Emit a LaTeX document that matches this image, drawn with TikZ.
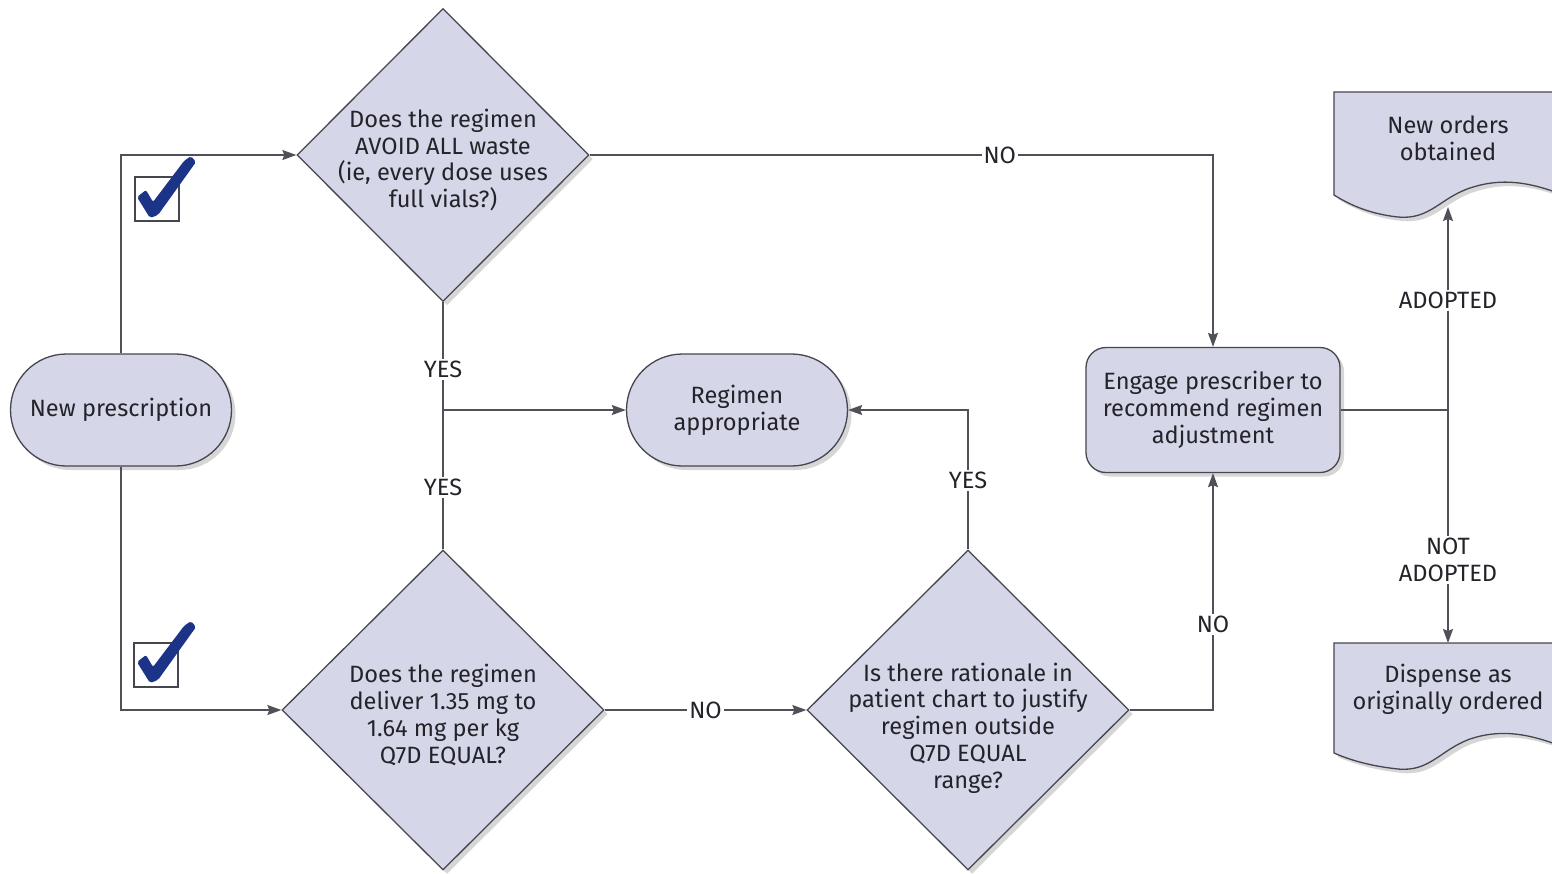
\documentclass[tikz,border=0pt]{standalone}
\usepackage{fontspec}
\setmainfont{Fira Sans}
\usetikzlibrary{shapes.geometric,shadows,arrows.meta}
\definecolor{boxfill}{RGB}{213,215,232}
\definecolor{edgec}{RGB}{70,70,78}
\definecolor{connc}{RGB}{80,80,88}
\definecolor{tickc}{RGB}{28,52,135}
\definecolor{txtc}{RGB}{35,35,42}
\begin{document}
\begin{tikzpicture}[x=1pt,y=-1pt,
  every node/.style={font=\fontsize{23.6}{26.8}\selectfont, text=txtc},
  shp/.style={draw=edgec, line width=1.3pt, fill=boxfill,
    drop shadow={opacity=0.32, shadow xshift=4pt, shadow yshift=-4pt}},
  term/.style={shp, rounded corners=56pt, minimum width=221pt, minimum height=112pt, align=center, inner sep=0pt},
  dia/.style={shp, diamond, aspect=1, inner sep=0pt},
  qtxt/.style={align=center, inner sep=0pt},
  lab/.style={fill=white, inner sep=2pt, align=center},
  line/.style={draw=connc, line width=1.4pt},
  arr/.style={line, -{Stealth[length=14pt, width=10pt, inset=2pt]}},
  cbox/.style={draw=edgec, line width=2.8pt, fill=white}
]
\useasboundingbox (0,0) rectangle (1552,873);
\fill[white] (0,0) rectangle (1552,873);

% terminals
\node[term] (np) at (121,410) {New prescription};
\node[term] (ra) at (737,410) {Regimen\\appropriate};

% decisions
\node[dia, minimum width=292pt, minimum height=293pt] (d1) at (443,155) {};
\node[qtxt] (d1t) at (443,160) {Does the regimen\\AVOID ALL waste\\(ie, every dose uses\\full vials?)};
\node[dia, minimum width=322pt, minimum height=320pt] (d2) at (443,710) {};
\node[qtxt] (d2t) at (443,715) {Does the regimen\\deliver 1.35 mg to\\1.64 mg per kg\\Q7D EQUAL?};
\node[dia, minimum width=322pt, minimum height=320pt] (d3) at (968,710) {};
\node[qtxt] (d3t) at (968,728) {Is there rationale in\\patient chart to justify\\regimen outside\\Q7D EQUAL\\range?};

% process
\node[shp, rounded corners=20pt, minimum width=254pt, minimum height=125pt, align=center, inner sep=0pt] (eng) at (1213,410) {Engage prescriber to\\recommend regimen\\adjustment};

% documents
\path[shp] (1334,92) -- (1575,92) -- (1575,200)
  .. controls (1530,180) and (1500,178) .. (1470,188)
  .. controls (1440,198) and (1430,220) .. (1398,217)
  .. controls (1370,214) and (1350,205) .. (1334,195) -- cycle;
\node[qtxt] (nob) at (1448,138) {New orders\\obtained};
\coordinate (nobot) at (1448,207);

\path[shp] (1334,643) -- (1575,643) -- (1575,752)
  .. controls (1530,732) and (1500,729) .. (1470,739)
  .. controls (1440,750) and (1430,772) .. (1398,769)
  .. controls (1370,766) and (1350,760) .. (1334,753) -- cycle;
\node[qtxt] (dis) at (1448,689) {Dispense as\\originally ordered};
\coordinate (distop) at (1448,643);

% checkboxes
\node[cbox, minimum width=44pt, minimum height=44pt, inner sep=0pt] (cb1) at (157,199) {};
\node[cbox, minimum width=44pt, minimum height=44pt, inner sep=0pt] (cb2) at (156,665) {};
\foreach \dy in {0,465}{
  \fill[tickc, rounded corners=2pt, yshift=-\dy pt]
    (137,197) -- (146,190) -- (153,202) -- (184,161) -- (191,156) -- (196,162)
    -- (158,215) -- (150,218) -- cycle;
}

% connectors
\draw[arr] (np.north) |- (d1.west);
\draw[arr] (np.south) |- (d2.west);
\draw[arr] (d1.east) -| (eng.north) node[lab, pos=0.329] {NO};
\draw[line] (d1.south) -- (d2.north)
  node[lab, pos=0.273] {YES}
  node[lab, pos=0.751] {YES};
\coordinate (j1) at (443,410);
\draw[arr] (j1) -- (ra.west);
\draw[arr] (d2.east) -- (d3.west) node[lab, midway] {NO};
\draw[arr] (d3.north) |- (ra.east) node[lab, pos=0.246] {YES};
\draw[arr] (d3.east) -| (eng.south) node[lab, pos=0.681] {NO};
\coordinate (sp) at (1448,410);
\draw[line] (eng.east) -- (sp);
\draw[arr] (sp) -- (nobot) node[lab, pos=0.54] {ADOPTED};
\draw[arr] (sp) -- (distop) node[lab, pos=0.644] {NOT\\ADOPTED};
\end{tikzpicture}
\end{document}
